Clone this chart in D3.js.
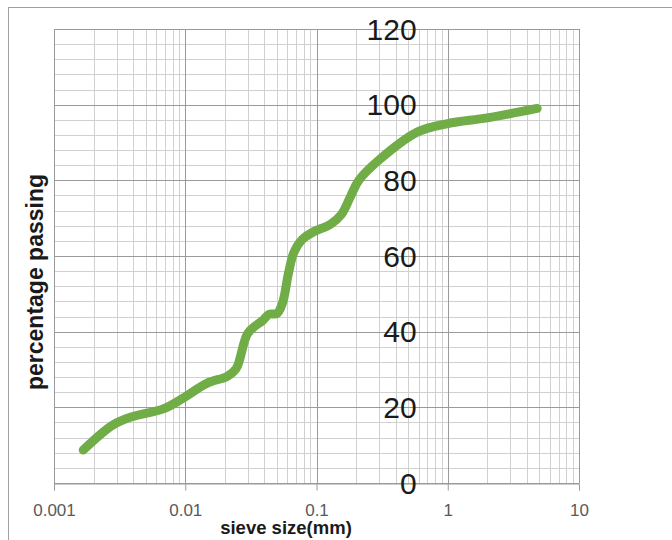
<!DOCTYPE html>
<html>
<head>
<meta charset="utf-8">
<script src="https://cdn.jsdelivr.net/npm/d3@7"></script>
<style>
  body { margin: 0; background: #fff; }
  text { font-family: "Liberation Sans", Arial, sans-serif; }
</style>
</head>
<body>
<div class="canvas"></div>
<script>
// sieve sizes (mm) and percentage passing
const sieveSizes = [0.00167, 0.0028, 0.004, 0.0068, 0.0097, 0.0147, 0.0209, 0.0245, 0.0300, 0.0390, 0.0435, 0.05, 0.055, 0.0612, 0.067, 0.078, 0.095, 0.128, 0.155, 0.182, 0.21, 0.3, 0.59, 1.0, 2.0, 4.8];
const percentPassing = [8.7, 15.3, 17.6, 19.6, 22.5, 26.4, 28.2, 30.3, 39.6, 43.0, 44.6, 44.8, 47.5, 55.5, 60.8, 64.4, 66.4, 68.4, 71, 75.8, 80, 85.4, 92.8, 95.0, 96.5, 99];

const xTickValues = [0.001, 0.01, 0.1, 1, 10];
const xTickLabels = ["0.001", "0.01", "0.1", "1", "10"];
const yTickValues = [0, 20, 40, 60, 80, 100, 120];

const dims = {width: 672, height: 540};
const plot = {left: 54, top: 29, right: 579, bottom: 483};
const yAxisCross = 0.6;

const svg = d3.select(".canvas")
  .append("svg")
  .attr("width", dims.width)
  .attr("height", dims.height);

// chart area border
svg.append("rect")
  .attr("x", 8.5).attr("y", 7.5)
  .attr("width", dims.width + 20).attr("height", dims.height + 20)
  .attr("fill", "none")
  .attr("stroke", "#a0a0a0");

const x = d3.scaleLog().domain([0.001, 10]).range([plot.left, plot.right]);
const y = d3.scaleLinear().domain([0, 120]).range([plot.bottom, plot.top]);

const grid = svg.append("g");

// minor vertical gridlines (2..9 in each decade)
const minorX = [];
xTickValues.slice(0, -1).forEach(d => {
  for (let k = 2; k <= 9; k++) minorX.push(d * k);
});
grid.selectAll(".vminor").data(minorX).enter()
  .append("line")
  .attr("x1", d => Math.round(x(d)) + 0.5).attr("x2", d => Math.round(x(d)) + 0.5)
  .attr("y1", plot.top).attr("y2", plot.bottom)
  .attr("stroke", "#d0d0d0");

// minor horizontal gridlines every 4
const minorY = d3.range(0, 121, 4).filter(d => d % 20 !== 0);
grid.selectAll(".hminor").data(minorY).enter()
  .append("line")
  .attr("x1", plot.left).attr("x2", plot.right)
  .attr("y1", d => Math.round(y(d)) + 0.5).attr("y2", d => Math.round(y(d)) + 0.5)
  .attr("stroke", "#d0d0d0");

// major gridlines
grid.selectAll(".vmajor").data(xTickValues).enter()
  .append("line")
  .attr("x1", d => Math.round(x(d)) + 0.5).attr("x2", d => Math.round(x(d)) + 0.5)
  .attr("y1", plot.top).attr("y2", plot.bottom)
  .attr("stroke", "#9a9a9a");

grid.selectAll(".hmajor").data(yTickValues).enter()
  .append("line")
  .attr("x1", plot.left).attr("x2", plot.right)
  .attr("y1", d => Math.round(y(d)) + 0.5).attr("y2", d => Math.round(y(d)) + 0.5)
  .attr("stroke", "#9a9a9a");

// x axis
const xAxis = d3.axisBottom(x)
  .tickValues(xTickValues)
  .tickFormat((d, i) => xTickLabels[i])
  .tickSize(7)
  .tickPadding(13);

const xg = svg.append("g")
  .attr("transform", `translate(0, ${Math.round(y(0)) + 0.5})`)
  .call(xAxis);
xg.select(".domain").attr("stroke", "#9a9a9a");
xg.selectAll(".tick line").attr("stroke", "#9a9a9a");
xg.selectAll(".tick text")
  .attr("font-family", "Liberation Sans, Arial, sans-serif")
  .attr("font-size", 17)
  .attr("fill", "#595959");

// y labels sit beside the crossing point of the value axis
svg.append("g").selectAll("text").data(yTickValues).enter()
  .append("text")
  .attr("x", x(yAxisCross) - 2)
  .attr("y", d => y(d))
  .attr("dy", "0.36em")
  .attr("text-anchor", "end")
  .attr("font-size", 30)
  .attr("fill", "#1a1a1a")
  .text(d => d);

// grading curve
const line = d3.line()
  .x((d, i) => x(d))
  .y((d, i) => y(percentPassing[i]))
  .curve(d3.curveCatmullRom.alpha(0.5));

svg.append("path")
  .attr("d", line(sieveSizes))
  .attr("fill", "none")
  .attr("stroke", "#70ad47")
  .attr("stroke-width", 9)
  .attr("stroke-linecap", "round")
  .attr("stroke-linejoin", "round");

// axis titles
svg.append("text")
  .attr("x", 286).attr("y", 534)
  .attr("text-anchor", "middle")
  .attr("font-size", 18.5)
  .attr("font-weight", "bold")
  .attr("fill", "#1a1a1a")
  .text("sieve size(mm)");

svg.append("text")
  .attr("transform", "translate(43, 282) rotate(-90)")
  .attr("text-anchor", "middle")
  .attr("font-size", 23)
  .attr("font-weight", "bold")
  .attr("fill", "#1a1a1a")
  .text("percentage passing");
</script>
</body>
</html>
